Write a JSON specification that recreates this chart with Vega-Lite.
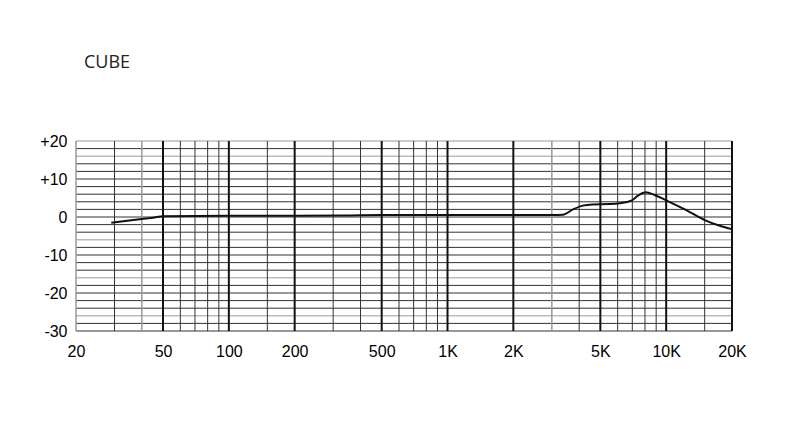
{
  "$schema": "https://vega.github.io/schema/vega-lite/v6.json",
  "autosize": {"type": "none"},
  "width": 656,
  "height": 190,
  "padding": {"left": 76, "top": 141, "right": 68, "bottom": 94},
  "background": "white",
  "title": {
    "text": "CUBE",
    "anchor": "start",
    "frame": "group",
    "dx": 8,
    "offset": 47,
    "baseline": "alphabetic",
    "font": "Open Sans",
    "fontSize": 18,
    "fontWeight": "normal",
    "color": "#222"
  },
  "datasets": {
    "hdark": [{"db": -30}, {"db": -28}, {"db": -24}, {"db": -22}, {"db": -20}, {"db": -18}, {"db": -14}, {"db": -12}, {"db": -10}, {"db": -8}, {"db": -4}, {"db": -2}, {"db": 0}, {"db": 2}, {"db": 4}, {"db": 6}, {"db": 8}, {"db": 10}, {"db": 12}, {"db": 14}, {"db": 18}],
    "hgray": [{"db": 20}, {"db": 16}, {"db": -6}, {"db": -16}, {"db": -26}],
    "vminor": [{"hz": 30}, {"hz": 60}, {"hz": 70}, {"hz": 80}, {"hz": 90}, {"hz": 150}, {"hz": 300}, {"hz": 400}, {"hz": 600}, {"hz": 700}, {"hz": 800}, {"hz": 900}, {"hz": 4000}, {"hz": 6000}, {"hz": 7000}, {"hz": 8000}, {"hz": 9000}, {"hz": 15000}],
    "vgray": [{"hz": 20}, {"hz": 40}, {"hz": 3000}],
    "vmajor": [{"hz": 50}, {"hz": 100}, {"hz": 200}, {"hz": 500}, {"hz": 1000}, {"hz": 2000}, {"hz": 5000}, {"hz": 10000}, {"hz": 20000}],
    "curve": [
      {"hz": 29, "db": -1.5},
      {"hz": 35, "db": -0.9},
      {"hz": 40, "db": -0.5},
      {"hz": 45, "db": -0.2},
      {"hz": 50, "db": 0.2},
      {"hz": 100, "db": 0.3},
      {"hz": 200, "db": 0.3},
      {"hz": 350, "db": 0.4},
      {"hz": 500, "db": 0.5},
      {"hz": 1000, "db": 0.5},
      {"hz": 2000, "db": 0.5},
      {"hz": 3000, "db": 0.5},
      {"hz": 3370, "db": 0.6},
      {"hz": 3750, "db": 2.0},
      {"hz": 4150, "db": 3.0},
      {"hz": 4600, "db": 3.3},
      {"hz": 5500, "db": 3.4},
      {"hz": 6125, "db": 3.6},
      {"hz": 6930, "db": 4.3},
      {"hz": 7430, "db": 5.6},
      {"hz": 8050, "db": 6.5},
      {"hz": 8850, "db": 5.8},
      {"hz": 10000, "db": 4.4},
      {"hz": 12360, "db": 1.8},
      {"hz": 15000, "db": -0.8},
      {"hz": 17600, "db": -2.3},
      {"hz": 20000, "db": -3.2}
    ]
  },
  "layer": [
    {
      "data": {"name": "hdark"},
      "mark": {"type": "rule", "color": "#333", "strokeWidth": 1},
      "encoding": {
        "y": {"field": "db", "type": "quantitative", "scale": {"domain": [-30, 20], "nice": false, "zero": false},
          "axis": {"values": [-30, -20, -10, 0, 10, 20], "labelExpr": "datum.value > 0 ? '+' + datum.value : '' + datum.value", "title": null, "domain": false, "ticks": false, "grid": false, "labelPadding": 9, "labelFont": "Liberation Sans", "labelFontSize": 16, "labelColor": "#000", "labelFlush": false, "labelOverlap": false}}
      }
    },
    {
      "data": {"name": "hgray"},
      "mark": {"type": "rule", "color": "#bbb", "strokeWidth": 1.5},
      "encoding": {
        "y": {"field": "db", "type": "quantitative",
          "axis": {"values": [-30, -20, -10, 0, 10, 20], "labelExpr": "datum.value > 0 ? '+' + datum.value : '' + datum.value", "title": null, "domain": false, "ticks": false, "grid": false, "labelPadding": 9, "labelFont": "Liberation Sans", "labelFontSize": 16, "labelColor": "#000", "labelFlush": false, "labelOverlap": false}}
      }
    },
    {
      "data": {"name": "vminor"},
      "mark": {"type": "rule", "color": "#333", "strokeWidth": 1},
      "encoding": {
        "x": {"field": "hz", "type": "quantitative", "scale": {"type": "log", "domain": [20, 20000], "nice": false},
          "axis": {"values": [20, 50, 100, 200, 500, 1000, 2000, 5000, 10000, 20000], "labelExpr": "datum.value >= 1000 ? (datum.value / 1000) + 'K' : '' + datum.value", "title": null, "domain": false, "ticks": false, "grid": false, "labelPadding": 12, "labelFont": "Liberation Sans", "labelFontSize": 16, "labelColor": "#000", "labelFlush": false, "labelOverlap": false}}
      }
    },
    {
      "data": {"name": "vgray"},
      "mark": {"type": "rule", "color": "#999", "strokeWidth": 1.5},
      "encoding": {
        "x": {"field": "hz", "type": "quantitative",
          "axis": {"values": [20, 50, 100, 200, 500, 1000, 2000, 5000, 10000, 20000], "labelExpr": "datum.value >= 1000 ? (datum.value / 1000) + 'K' : '' + datum.value", "title": null, "domain": false, "ticks": false, "grid": false, "labelPadding": 12, "labelFont": "Liberation Sans", "labelFontSize": 16, "labelColor": "#000", "labelFlush": false, "labelOverlap": false}}
      }
    },
    {
      "data": {"name": "vmajor"},
      "mark": {"type": "rule", "color": "#111", "strokeWidth": 2},
      "encoding": {
        "x": {"field": "hz", "type": "quantitative",
          "axis": {"values": [20, 50, 100, 200, 500, 1000, 2000, 5000, 10000, 20000], "labelExpr": "datum.value >= 1000 ? (datum.value / 1000) + 'K' : '' + datum.value", "title": null, "domain": false, "ticks": false, "grid": false, "labelPadding": 12, "labelFont": "Liberation Sans", "labelFontSize": 16, "labelColor": "#000", "labelFlush": false, "labelOverlap": false}}
      }
    },
    {
      "data": {"name": "curve"},
      "mark": {"type": "line", "color": "#111", "strokeWidth": 2, "interpolate": "monotone"},
      "encoding": {
        "x": {"field": "hz", "type": "quantitative",
          "axis": {"values": [20, 50, 100, 200, 500, 1000, 2000, 5000, 10000, 20000], "labelExpr": "datum.value >= 1000 ? (datum.value / 1000) + 'K' : '' + datum.value", "title": null, "domain": false, "ticks": false, "grid": false, "labelPadding": 12, "labelFont": "Liberation Sans", "labelFontSize": 16, "labelColor": "#000", "labelFlush": false, "labelOverlap": false}},
        "y": {"field": "db", "type": "quantitative",
          "axis": {"values": [-30, -20, -10, 0, 10, 20], "labelExpr": "datum.value > 0 ? '+' + datum.value : '' + datum.value", "title": null, "domain": false, "ticks": false, "grid": false, "labelPadding": 9, "labelFont": "Liberation Sans", "labelFontSize": 16, "labelColor": "#000", "labelFlush": false, "labelOverlap": false}}
      }
    }
  ],
  "config": {"view": {"stroke": null}}
}
